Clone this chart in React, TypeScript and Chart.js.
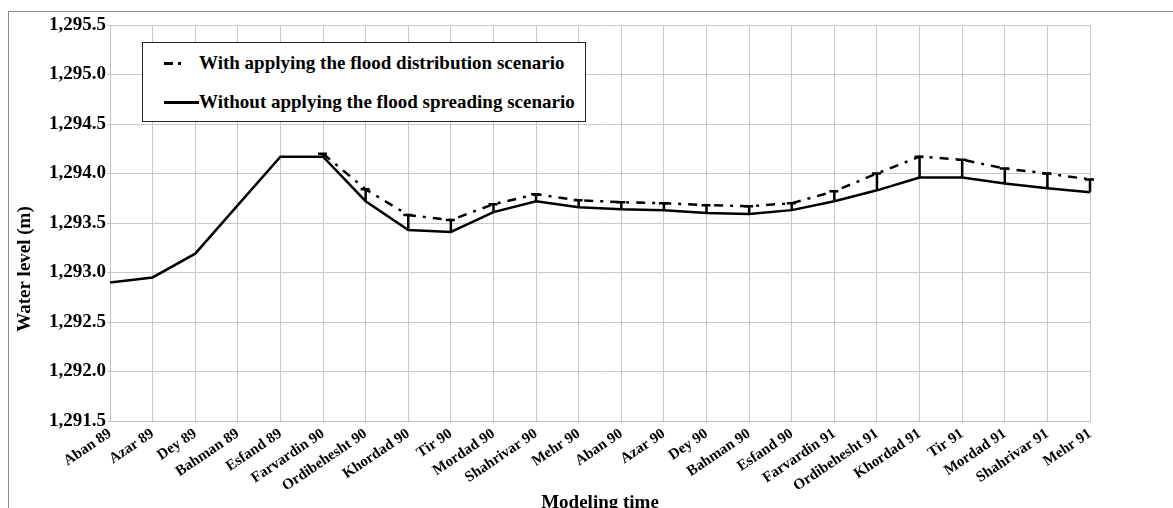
import React, { useEffect, useRef } from "react";
import { Chart, registerables } from "chart.js";

Chart.register(...registerables);

const categories = [
  "Aban 89", "Azar 89", "Dey 89", "Bahman 89", "Esfand 89", "Farvardin 90",
  "Ordibehesht 90", "Khordad 90", "Tir 90", "Mordad 90", "Shahrivar 90", "Mehr 90",
  "Aban 90", "Azar 90", "Dey 90", "Bahman 90", "Esfand 90", "Farvardin 91",
  "Ordibehesht 91", "Khordad 91", "Tir 91", "Mordad 91", "Shahrivar 91", "Mehr 91",
];

const withScenario: (number | null)[] = [
  null, null, null, null, null, 1294.2,
  1293.84, 1293.58, 1293.53, 1293.69, 1293.79, 1293.73,
  1293.71, 1293.7, 1293.68, 1293.67, 1293.7, 1293.82,
  1294.0, 1294.17, 1294.14, 1294.05, 1294.0, 1293.94,
];

const withoutScenario: number[] = [
  1292.9, 1292.95, 1293.19, 1293.68, 1294.17, 1294.17,
  1293.72, 1293.43, 1293.41, 1293.61, 1293.72, 1293.66,
  1293.64, 1293.63, 1293.6, 1293.59, 1293.63, 1293.72,
  1293.83, 1293.96, 1293.96, 1293.9, 1293.85, 1293.81,
];

const seriesNames = [
  "With applying the flood distribution scenario",
  "Without applying the flood spreading scenario",
];

const yMin = 1291.5;
const yMax = 1295.5;
const yStep = 0.5;
const xTitle = "Modeling time";
const yTitle = "Water level (m)";

const FONT = "'Liberation Serif', 'Times New Roman', serif";

const dropLines = {
  id: "dropLines",
  afterDatasetsDraw(chart: any) {
    const { ctx, scales } = chart;
    const xs = scales.x;
    const ys = scales.y;
    ctx.save();
    ctx.strokeStyle = "#000";
    ctx.lineWidth = 2.5;
    for (let i = 0; i < categories.length; i++) {
      const a = withScenario[i];
      const b = withoutScenario[i];
      if (a == null || b == null) continue;
      const x = xs.getPixelForValue(i);
      const y1 = ys.getPixelForValue(a);
      const y2 = ys.getPixelForValue(b);
      if (Math.abs(y2 - y1) < 2) continue;
      ctx.beginPath();
      ctx.moveTo(x, y1);
      ctx.lineTo(x, y2);
      ctx.moveTo(x - 5, y1);
      ctx.lineTo(x + 4, y1);
      ctx.stroke();
    }
    ctx.restore();
  },
};

const yTitlePlugin = {
  id: "yTitlePlugin",
  afterDraw(chart: any) {
    const { ctx, chartArea } = chart;
    ctx.save();
    ctx.fillStyle = "#000";
    ctx.font = `bold 19px ${FONT}`;
    ctx.textAlign = "center";
    ctx.textBaseline = "middle";
    ctx.translate(chartArea.left - 85, (chartArea.top + chartArea.bottom) / 2 + 46);
    ctx.rotate(-Math.PI / 2);
    ctx.fillText(yTitle, 0, 0);
    ctx.restore();
  },
};

export default function App() {
  const ref = useRef<HTMLCanvasElement | null>(null);

  useEffect(() => {
    if (!ref.current) return;
    Chart.defaults.color = "#000";
    Chart.defaults.font.family = FONT;
    Chart.defaults.font.weight = "bold";
    const chart = new Chart(ref.current, {
      type: "line",
      data: {
        labels: categories,
        datasets: [
          {
            label: seriesNames[0],
            data: withScenario,
            borderColor: "#000",
            borderWidth: 2.5,
            borderDash: [9, 7, 3, 7],
            pointRadius: 0,
            tension: 0,
            spanGaps: false,
          },
          {
            label: seriesNames[1],
            data: withoutScenario,
            borderColor: "#000",
            borderWidth: 2.5,
            pointRadius: 0,
            tension: 0,
          },
        ],
      },
      options: {
        animation: false,
        responsive: false,
        layout: { padding: { top: 13, left: 0, right: 119, bottom: 0 } },
        plugins: {
          legend: { display: false },
          tooltip: { enabled: false },
        },
        scales: {
          x: {
            offset: false,
            grid: { color: "#c8c8c8", lineWidth: 1, drawTicks: false },
            border: { color: "#c0c0c0", width: 1 },
            ticks: {
              autoSkip: false,
              maxRotation: 34,
              minRotation: 34,
              padding: 4,
              font: { size: 15, weight: "bold", family: FONT },
            },
            title: {
              display: true,
              text: xTitle,
              font: { size: 19, weight: "bold", family: FONT },
              padding: { top: 4, bottom: 4 },
            },
            afterFit: (s: any) => {
              s.height = 97;
            },
          },
          y: {
            min: yMin,
            max: yMax,
            grid: { color: "#c8c8c8", lineWidth: 1, tickLength: 3 },
            border: { color: "#c0c0c0", width: 1 },
            ticks: {
              stepSize: yStep,
              padding: 1,
              font: { size: 19, weight: "bold", family: FONT },
              callback: (v: any) =>
                Number(v).toLocaleString("en-US", {
                  minimumFractionDigits: 1,
                  maximumFractionDigits: 1,
                }),
            },
            title: { display: false },
            afterFit: (s: any) => {
              s.width = 101;
            },
          },
        },
      },
      plugins: [dropLines, yTitlePlugin],
    });
    return () => chart.destroy();
  }, []);

  const legendText: React.CSSProperties = {
    fontFamily: FONT,
    fontWeight: "bold",
    fontSize: 19,
    lineHeight: "22px",
    whiteSpace: "nowrap",
  };

  return (
    <div
      style={{
        position: "fixed",
        left: 8,
        top: 11,
        width: 1165,
        height: 497,
        overflow: "hidden",
      }}
    >
      <div
        style={{
          position: "relative",
          width: 1200,
          height: 520,
          borderLeft: "1px solid #8a8a8a",
          borderTop: "1px solid #8a8a8a",
          background: "#fff",
        }}
      >
        <canvas ref={ref} width={1200} height={506} style={{ display: "block" }} />
        <div
          style={{
            position: "absolute",
            left: 133,
            top: 30,
            height: 80,
            border: "1px solid #222",
            background: "#fff",
            paddingRight: 10,
            boxSizing: "border-box",
          }}
        >
          <div style={{ display: "flex", alignItems: "center", marginTop: 9, height: 22 }}>
            <div style={{ width: 56, position: "relative", height: 22 }}>
              <div style={{ position: "absolute", left: 21, top: 10, width: 9, height: 3, background: "#000" }} />
              <div style={{ position: "absolute", left: 35, top: 10, width: 3, height: 3, background: "#000" }} />
            </div>
            <span style={legendText}>{seriesNames[0]}</span>
          </div>
          <div style={{ display: "flex", alignItems: "center", marginTop: 17, height: 22 }}>
            <div style={{ width: 56, position: "relative", height: 22 }}>
              <div style={{ position: "absolute", left: 21, top: 10, width: 35, height: 2.5, background: "#000" }} />
            </div>
            <span style={legendText}>{seriesNames[1]}</span>
          </div>
        </div>
      </div>
    </div>
  );
}
